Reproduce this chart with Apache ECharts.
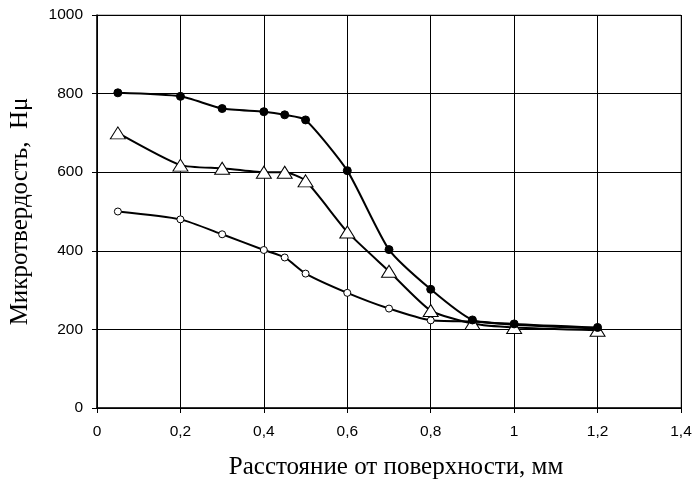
<!DOCTYPE html>
<html>
<head>
<meta charset="utf-8">
<script src="https://cdn.jsdelivr.net/npm/echarts@6/dist/echarts.min.js"></script>
<style>html,body{margin:0;padding:0;background:#fff}#c{width:694px;height:485px}</style>
</head>
<body>
<div id="c"></div>
<script>
const xTicks = [0, 0.2, 0.4, 0.6, 0.8, 1, 1.2, 1.4];
const yTicks = [0, 200, 400, 600, 800, 1000];
const xFilled = [0.05, 0.2, 0.3, 0.4, 0.45, 0.5, 0.6, 0.7, 0.8, 0.9, 1.0, 1.2];
const yFilled = [802, 793, 762, 754, 746, 733, 604, 403, 302, 224, 214, 205];
const xTri = [0.05, 0.2, 0.3, 0.4, 0.45, 0.5, 0.6, 0.7, 0.8, 0.9, 1.0, 1.2];
const yTri = [700, 618, 610, 600, 600, 578, 448, 348, 248, 215, 205, 198];
const xOpen = [0.05, 0.2, 0.3, 0.4, 0.45, 0.5, 0.6, 0.7, 0.8, 0.9, 1.0, 1.2];
const yOpen = [500, 480, 442, 402, 383, 342, 293, 253, 223, 220, 212, 202];

const pairs = (xs, ys) => xs.map((x, i) => [x, ys[i]]);
const fmt = v => String(v).replace('.', ',');

const chart = echarts.init(document.getElementById('c'), null, {renderer: 'canvas'});
chart.setOption({
  animation: false,
  backgroundColor: '#fff',
  grid: {left: 97, right: 13, top: 15, bottom: 77, containLabel: false, outerBoundsMode: 'none',
    show: true, borderColor: '#888', borderWidth: 1},
  xAxis: {
    type: 'value', min: 0, max: 1.4, interval: 0.2,
    name: 'Расстояние от поверхности, мм', nameLocation: 'middle', nameGap: 47,
    nameTextStyle: {fontFamily: 'Liberation Serif', fontSize: 25, color: '#000', padding: [0, 0, 0, 14]},
    axisLine: {lineStyle: {color: '#000', width: 1.5}},
    axisTick: {show: true, length: 5, lineStyle: {color: '#000'}},
    axisLabel: {fontFamily: 'Liberation Sans', fontSize: 15.5, color: '#000', margin: 16,
      formatter: v => fmt(Math.round(v * 10) / 10)},
    splitLine: {show: true, lineStyle: {color: '#000', width: 1}}
  },
  yAxis: {
    type: 'value', min: 0, max: 1000, interval: 200,
    name: 'Микротвердость,  Hμ', nameLocation: 'middle', nameGap: 64,
    nameTextStyle: {fontFamily: 'Liberation Serif', fontSize: 25, color: '#000', padding: [0, 0, 0, 0]},
    axisLine: {show: true, lineStyle: {color: '#000', width: 1.5}},
    axisTick: {show: true, length: 5, lineStyle: {color: '#000'}},
    axisLabel: {fontFamily: 'Liberation Sans', fontSize: 15.5, color: '#000', margin: 14,
      formatter: v => String(v)},
    splitLine: {show: true, lineStyle: {color: '#000', width: 1}}
  },
  series: [
    {type: 'line', data: pairs(xOpen, yOpen), smooth: 0.2, symbol: 'circle', symbolSize: 7,
      lineStyle: {color: '#000', width: 2}, itemStyle: {color: '#fff', borderColor: '#000', borderWidth: 1}, z: 3},
    {type: 'line', data: pairs(xTri, yTri), smooth: 0.2, symbol: 'triangle', symbolSize: [15, 12],
      lineStyle: {color: '#000', width: 2}, itemStyle: {color: '#fff', borderColor: '#000', borderWidth: 1}, z: 4},
    {type: 'line', data: pairs(xFilled, yFilled), smooth: 0.2, symbol: 'circle', symbolSize: 8,
      lineStyle: {color: '#000', width: 2}, itemStyle: {color: '#000', borderColor: '#000', borderWidth: 1}, z: 5}
  ]
});
</script>
</body>
</html>
